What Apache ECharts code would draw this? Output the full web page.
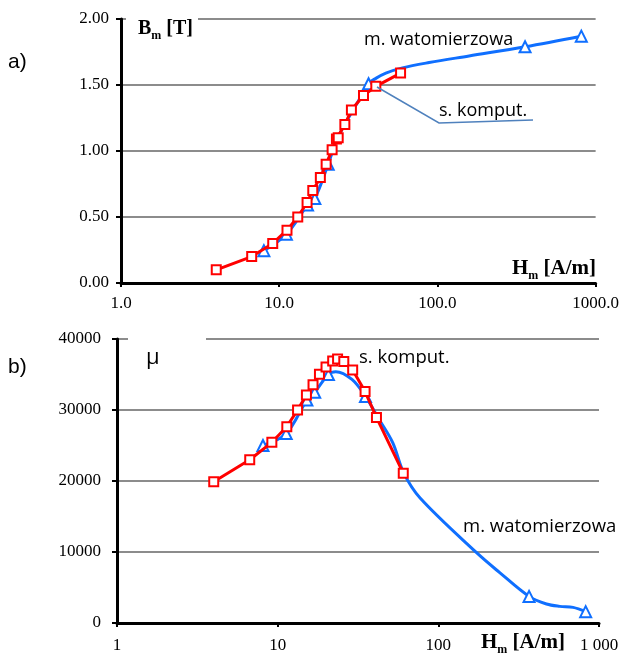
<!DOCTYPE html>
<html>
<head>
<meta charset="utf-8">
<script src="https://cdn.jsdelivr.net/npm/echarts@6/dist/echarts.min.js"></script>
<style>
html,body{margin:0;padding:0;background:#fff;}
#chart{width:622px;height:654px;}
</style>
</head>
<body>
<div id="chart"></div>
<script>
// ---- Chart a) B(H) ----
var H_komp_a = [4.0, 6.7, 9.1, 11.2, 13.1, 15.0, 16.3, 18.2, 19.8, 21.6, 23.0, 23.6, 26.0, 28.6, 34.1, 40.8, 58.5];
var B_komp_a = [0.10, 0.20, 0.30, 0.40, 0.50, 0.61, 0.70, 0.80, 0.90, 1.01, 1.09, 1.10, 1.20, 1.31, 1.42, 1.49, 1.59];

var H_wat_a = [8.0, 11.1, 15.1, 16.8, 20.4, 23.0, 26.5, 31.0, 36.7, 40.8, 47.2, 60.1, 88.7, 158.5, 358, 812];
var B_wat_a = [0.245, 0.37, 0.59, 0.64, 0.90, 1.08, 1.22, 1.36, 1.51, 1.55, 1.59, 1.63, 1.67, 1.72, 1.79, 1.87];
var measured_wat_a = [1, 1, 1, 1, 1, 0, 0, 0, 1, 0, 0, 0, 0, 0, 1, 1];

var yTicks_a = [0, 0.5, 1.0, 1.5, 2.0];

// ---- Chart b) mu(H) ----
var H_komp_b = [4.0, 6.7, 9.2, 11.4, 13.3, 15.1, 16.6, 18.2, 20.0, 22.0, 23.6, 25.8, 29.3, 35.0, 41.2, 60.5];
var mu_komp_b = [19900, 23000, 25450, 27650, 30000, 32100, 33540, 35040, 36070, 36900, 37170, 36820, 35650, 32600, 28950, 21100];

var H_wat_b = [8.1, 11.3, 15.2, 17.0, 20.7, 23.0, 29.0, 35.2, 43, 52, 61, 77, 173, 241, 367, 471, 570, 690, 826];
var mu_wat_b = [25000, 26700, 31400, 32500, 35000, 35400, 34300, 31900, 28600, 25400, 21100, 17600, 9900, 7100, 3750, 2670, 2340, 2200, 1600];
var measured_wat_b = [1, 1, 1, 1, 1, 0, 0, 1, 0, 0, 0, 0, 0, 0, 1, 0, 0, 0, 1];

var yTicks_b = [0, 10000, 20000, 30000, 40000];
var xLabels_a = {1: '1.0', 10: '10.0', 100: '100.0', 1000: '1000.0'};
var xLabels_b = {1: '1', 10: '10', 100: '100', 1000: '1 000'};

var RED = '#ff0000';
var BLUE = '#0f6fff';
var SERIF = '"Liberation Serif", "DejaVu Serif", serif';
var SANS = '"Open Sans", "Noto Sans", sans-serif';

function pairs(xs, ys) { return xs.map(function (x, i) { return [x, ys[i]]; }); }
function watData(xs, ys, flags) {
  return xs.map(function (x, i) {
    var d = {value: [x, ys[i]]};
    if (!flags[i]) d.symbol = 'none';
    return d;
  });
}

var chart = echarts.init(document.getElementById('chart'), null, {renderer: 'canvas'});

function xAxisCfg(gridIndex, labels, margin) {
  return {
    gridIndex: gridIndex, type: 'log', logBase: 10, min: 1, max: 1000,
    axisLine: {show: true, onZero: false, lineStyle: {color: '#000', width: 3}},
    axisTick: {show: true, inside: false, length: 4, lineStyle: {color: '#000', width: 2}},
    axisLabel: {
      margin: margin, color: '#000', fontFamily: SERIF, fontSize: 17,
      formatter: function (v) { var k = Math.round(v); return labels[k] !== undefined ? labels[k] : ''; }
    },
    splitLine: {show: false}, minorTick: {show: false}
  };
}
function yAxisCfg(gridIndex, max, interval, fmt, margin) {
  return {
    gridIndex: gridIndex, type: 'value', min: 0, max: max, interval: interval,
    axisLine: {show: true, onZero: false, lineStyle: {color: '#000', width: 3}},
    axisTick: {show: true, inside: false, length: 5, lineStyle: {color: '#000', width: 2}},
    axisLabel: {margin: margin, color: '#000', fontFamily: SERIF, fontSize: 17, formatter: fmt},
    splitLine: {show: true, lineStyle: {color: '#8c8c8c', width: 2}}
  };
}

var richTitle = function (size) {
  return {
    b: {fontFamily: SERIF, fontWeight: 'bold', fontSize: size, lineHeight: 26},
    s: {fontFamily: SERIF, fontWeight: 'bold', fontSize: 12, lineHeight: 12, verticalAlign: 'bottom'}
  };
};

var option = {
  animation: false,
  backgroundColor: '#fff',
  grid: [
    {left: 121, top: 19, width: 475, height: 264},
    {left: 117, top: 339, width: 482, height: 285}
  ],
  xAxis: [xAxisCfg(0, xLabels_a, 12), xAxisCfg(1, xLabels_b, 14)],
  yAxis: [
    yAxisCfg(0, yTicks_a[yTicks_a.length - 1], yTicks_a[1] - yTicks_a[0], function (v) { return v.toFixed(2); }, 12),
    yAxisCfg(1, yTicks_b[yTicks_b.length - 1], yTicks_b[1] - yTicks_b[0], function (v) { return String(v); }, 16)
  ],
  series: [
    {
      name: 'm. watomierzowa a', type: 'line', xAxisIndex: 0, yAxisIndex: 0,
      data: watData(H_wat_a, B_wat_a, measured_wat_a), smooth: 0.35,
      symbol: 'triangle', symbolSize: 11,
      lineStyle: {color: BLUE, width: 3},
      itemStyle: {color: '#fff', borderColor: BLUE, borderWidth: 2}, z: 2
    },
    {
      name: 's. komput. a', type: 'line', xAxisIndex: 0, yAxisIndex: 0,
      data: pairs(H_komp_a, B_komp_a),
      symbol: 'rect', symbolSize: 9,
      lineStyle: {color: RED, width: 3},
      itemStyle: {color: '#fff', borderColor: RED, borderWidth: 2}, z: 3
    },
    {
      name: 'm. watomierzowa b', type: 'line', xAxisIndex: 1, yAxisIndex: 1,
      data: watData(H_wat_b, mu_wat_b, measured_wat_b), smooth: 0.35,
      symbol: 'triangle', symbolSize: 11,
      lineStyle: {color: BLUE, width: 3},
      itemStyle: {color: '#fff', borderColor: BLUE, borderWidth: 2}, z: 2
    },
    {
      name: 's. komput. b', type: 'line', xAxisIndex: 1, yAxisIndex: 1,
      data: pairs(H_komp_b, mu_komp_b),
      symbol: 'rect', symbolSize: 9,
      lineStyle: {color: RED, width: 3},
      itemStyle: {color: '#fff', borderColor: RED, borderWidth: 2}, z: 3
    }
  ],
  graphic: [
    // panel letters
    {type: 'text', left: 8, top: 52, style: {text: 'a)', font: '21px "Liberation Sans", Arial, sans-serif', fill: '#000'}},
    {type: 'text', left: 8, top: 357, style: {text: 'b)', font: '21px "Liberation Sans", Arial, sans-serif', fill: '#000'}},
    // title backgrounds hiding the top gridline
    {type: 'rect', shape: {x: 126, y: 12, width: 72, height: 14}, style: {fill: '#fff'}, z: 50},
    {type: 'rect', shape: {x: 128, y: 332, width: 78, height: 14}, style: {fill: '#fff'}, z: 50},
    // axis titles
    {type: 'text', x: 138, y: 16, z: 60, style: {text: '{b|B}{s|m}{b| [T]}', fill: '#000', rich: richTitle(20)}},
    {type: 'text', x: 512, y: 256, z: 60, style: {text: '{b|H}{s|m}{b| [A/m]}', fill: '#000', rich: richTitle(21)}},
    {type: 'text', x: 481, y: 630, z: 60, style: {text: '{b|H}{s|m}{b| [A/m]}', fill: '#000', rich: richTitle(21)}},
    {type: 'text', x: 146, y: 347, z: 60, style: {text: 'μ', font: '22px ' + SANS, fill: '#000'}},
    // series annotations
    {type: 'text', x: 364, y: 31, z: 60, style: {text: 'm. watomierzowa', font: '18px ' + SANS, fill: '#000'}},
    {type: 'text', x: 439, y: 102, z: 60, style: {text: 's. komput.', font: '18px ' + SANS, fill: '#000'}},
    {type: 'polyline', z: 40, shape: {points: [[377, 87], [439, 123], [533, 120]]}, style: {stroke: '#4f81bd', lineWidth: 1.5, fill: null}},
    {type: 'text', x: 359, y: 348, z: 60, style: {text: 's. komput.', font: '18.5px ' + SANS, fill: '#000'}},
    {type: 'text', x: 463, y: 517, z: 60, style: {text: 'm. watomierzowa', font: '18.5px ' + SANS, fill: '#000'}}
  ]
};
chart.setOption(option);
</script>
</body>
</html>
